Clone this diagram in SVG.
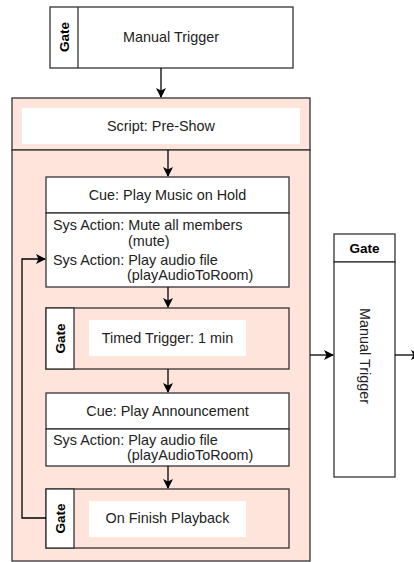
<svg xmlns="http://www.w3.org/2000/svg" width="414" height="562" viewBox="0 0 414 562">
  <style>
    .box { fill: #ffffff; stroke: #333333; stroke-width: 1.3; }
    .frame { fill: #ffe4dc; stroke: #333333; stroke-width: 1.3; }
    .inner { fill: #ffffff; stroke: none; }
    .lbl { font-family: "Liberation Sans", Arial, sans-serif; font-size: 14.4px; fill: #222222; }
    .mid { text-anchor: middle; }
    .gate { font-family: "Liberation Sans", Arial, sans-serif; font-size: 13.5px; font-weight: bold; fill: #000000; text-anchor: middle; }
    .wire { fill: none; stroke: #000000; stroke-width: 1.3; }
  </style>
  <defs>
    <marker id="arrow" viewBox="0 0 10 10" refX="9" refY="5" markerWidth="10" markerHeight="10" markerUnits="userSpaceOnUse" orient="auto">
      <path d="M0,0 L10,5 L0,10 L2.5,5 Z" fill="#000000"/>
    </marker>
  </defs>

  <!-- Script container -->
  <g id="script-pre-show">
    <rect class="frame" x="12" y="98" width="298" height="52"/>
    <rect class="inner" x="22" y="108" width="278" height="36"/>
    <text class="lbl mid" x="161" y="131">Script: Pre-Show</text>
    <rect class="frame" x="12" y="150" width="298" height="411"/>
  </g>

  <!-- Top gate: manual trigger -->
  <g id="gate-manual-top">
    <rect class="box" x="50" y="7" width="243" height="61"/>
    <line x1="78" y1="7" x2="78" y2="68" stroke="#333333" stroke-width="1.3"/>
    <text class="gate" transform="translate(69 37) rotate(-90)">Gate</text>
    <text class="lbl mid" x="171" y="42">Manual Trigger</text>
  </g>

  <!-- Cue: music on hold -->
  <g id="cue-music-on-hold">
    <rect class="box" x="46" y="177" width="243" height="36"/>
    <text class="lbl mid" x="167.5" y="200">Cue: Play Music on Hold</text>
    <rect class="box" x="46" y="213" width="243" height="74"/>
    <text class="lbl" x="53" y="230">Sys Action: Mute all members</text>
    <text class="lbl" x="128" y="246">(mute)</text>
    <text class="lbl" x="53" y="265">Sys Action: Play audio file</text>
    <text class="lbl" x="127" y="280">(playAudioToRoom)</text>
  </g>

  <!-- Gate: timed trigger -->
  <g id="gate-timed">
    <rect class="frame" x="46" y="308" width="243" height="61"/>
    <rect class="box" x="46" y="308" width="28" height="61"/>
    <text class="gate" transform="translate(65 338.5) rotate(-90)">Gate</text>
    <rect class="inner" x="89" y="320" width="157" height="36"/>
    <text class="lbl mid" x="167.5" y="343">Timed Trigger: 1 min</text>
  </g>

  <!-- Cue: announcement -->
  <g id="cue-announcement">
    <rect class="box" x="46" y="393" width="243" height="36"/>
    <text class="lbl mid" x="167.5" y="416">Cue: Play Announcement</text>
    <rect class="box" x="46" y="429" width="243" height="37"/>
    <text class="lbl" x="53" y="445">Sys Action: Play audio file</text>
    <text class="lbl" x="127" y="460">(playAudioToRoom)</text>
  </g>

  <!-- Gate: on finish playback -->
  <g id="gate-finish">
    <rect class="frame" x="46" y="489" width="243" height="59"/>
    <rect class="box" x="46" y="489" width="28" height="59"/>
    <text class="gate" transform="translate(65 518.5) rotate(-90)">Gate</text>
    <rect class="inner" x="89" y="501" width="157" height="36"/>
    <text class="lbl mid" x="167.5" y="523">On Finish Playback</text>
  </g>

  <!-- Right gate: manual trigger -->
  <g id="gate-manual-right">
    <rect class="box" x="334" y="234" width="61" height="28"/>
    <text class="gate" x="364.5" y="253">Gate</text>
    <rect class="box" x="334" y="262" width="61" height="215"/>
    <text class="lbl mid" transform="translate(359.5 356) rotate(90)">Manual Trigger</text>
  </g>

  <!-- Connectors -->
  <g id="connectors">
    <path class="wire" d="M161,68 L161,97" marker-end="url(#arrow)"/>
    <path class="wire" d="M168,150 L168,176" marker-end="url(#arrow)"/>
    <path class="wire" d="M168,287 L168,307" marker-end="url(#arrow)"/>
    <path class="wire" d="M168,369 L168,392" marker-end="url(#arrow)"/>
    <path class="wire" d="M168,466 L168,488" marker-end="url(#arrow)"/>
    <path class="wire" d="M46,518 L22,518 L22,259 L45,259" marker-end="url(#arrow)"/>
    <path class="wire" d="M310,355 L333,355" marker-end="url(#arrow)"/>
    <path class="wire" d="M395,355 L420,355" marker-end="url(#arrow)"/>
  </g>
</svg>
